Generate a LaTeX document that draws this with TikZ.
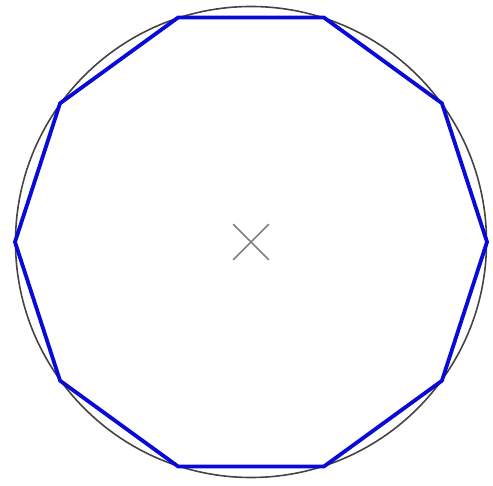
\documentclass[tikz,border=0pt]{standalone}
\usepackage{tikz}
\usetikzlibrary{shapes.misc, calc}
\definecolor{polyblue}{HTML}{0A0AD8}
\definecolor{circgray}{HTML}{444444}

\begin{document}
\begin{tikzpicture}[
  x=1pt, y=1pt,
  circ/.style={draw=circgray, line width=1.6pt},
  poly/.style={draw=polyblue, line width=3.8pt, line join=round},
  centermark/.style={cross out, draw=gray, line width=1.6pt,
    minimum size=34pt, inner sep=0pt}
]
\useasboundingbox (0,0) rectangle (493,485);

% Centre and circle
\coordinate (c) at (251,243);
\draw[circ] (c) circle[radius=235.5];

% Corners of the decagon
\foreach \i in {0,...,9}
  \coordinate (v\i) at ($(c)+(\i*36:236)$);

% Decagon
\draw[poly] (v0) \foreach \i in {1,...,9}{ -- (v\i)} -- cycle;

% Centre mark
\node[centermark] (mark) at (c) {};

\end{tikzpicture}
\end{document}
